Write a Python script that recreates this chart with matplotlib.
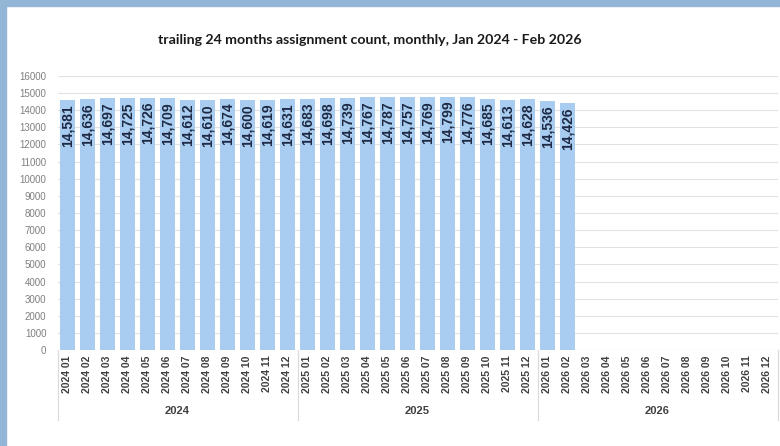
import numpy as np
import matplotlib.pyplot as plt
from matplotlib.patches import Rectangle

# data
years = ['2024', '2025', '2026']
months = ['01', '02', '03', '04', '05', '06', '07', '08', '09', '10', '11', '12']
counts = [14581, 14636, 14697, 14725, 14726, 14709, 14612, 14610, 14674, 14600, 14619, 14631,
          14683, 14698, 14739, 14767, 14787, 14757, 14769, 14799, 14776, 14685, 14613, 14628,
          14536, 14426]
title = 'trailing 24 months assignment count, monthly, Jan 2024 - Feb 2026'

cats = [y + ' ' + m for y in years for m in months]
x = np.arange(len(cats))

plt.rcParams['font.family'] = ['Liberation Sans', 'DejaVu Sans']
fig = plt.figure(figsize=(7.8, 4.46), dpi=100)
ax = fig.add_axes([57.5 / 780, 96 / 446, 720 / 780, 274 / 446])

# screenshot frame (top and left)
fig.patches.append(Rectangle((0, 1 - 6 / 446), 1, 6 / 446, transform=fig.transFigure,
                             color='#94b6d6', zorder=0))
fig.patches.append(Rectangle((0, 0), 6 / 780, 1, transform=fig.transFigure,
                             color='#94b6d6', zorder=0))

bars = ax.bar(x[:len(counts)], counts, width=0.75, color='#a9cdf0', zorder=2)
for xi, v in zip(x, counts):
    ax.annotate(f'{v:,}', (xi, v), xytext=(0, -3), textcoords='offset points',
                rotation=90, ha='center', va='top', fontsize=10, fontweight='bold',
                color='#1e2a44', zorder=3)

ax.set_xlim(-0.5, len(cats) - 0.5)
ax.set_ylim(0, 16000)
ax.set_yticks(np.arange(0, 16001, 1000))
ax.grid(axis='y', color='#e2e2e2', linewidth=0.8, zorder=0)
ax.set_axisbelow(True)
for s in ax.spines.values():
    s.set_visible(False)

ax.set_xticks(x)
ax.set_xticklabels(cats, rotation=90, fontsize=7.5, fontweight='bold', color='#404040')
ax.tick_params(axis='x', length=0, pad=4)
ax.tick_params(axis='y', length=0, pad=8, labelsize=7, labelcolor='#7f7f7f')

# year groups
sep_bottom = -70 / 274
for i in range(len(years) + 1):
    ax.plot([i * 12 - 0.5, i * 12 - 0.5], [0, sep_bottom], transform=ax.get_xaxis_transform(),
            color='#d9d9d9', linewidth=0.8, clip_on=False)
for i, yr in enumerate(years):
    ax.text(i * 12 + 5.5, -61 / 274, yr, transform=ax.get_xaxis_transform(),
            ha='center', va='center', fontsize=8, fontweight='bold', color='#404040')
ax.plot([-0.5, len(cats) - 0.5], [0, 0], color='#d9d9d9', linewidth=0.8, zorder=1)

fig.text(370 / 780, 1 - 40 / 446, title, ha='center', va='center', fontsize=10.2,
         fontweight='bold', color='#1a1a1a', family=['Lato', 'DejaVu Sans'])

fig.savefig('out.png', dpi=100)
